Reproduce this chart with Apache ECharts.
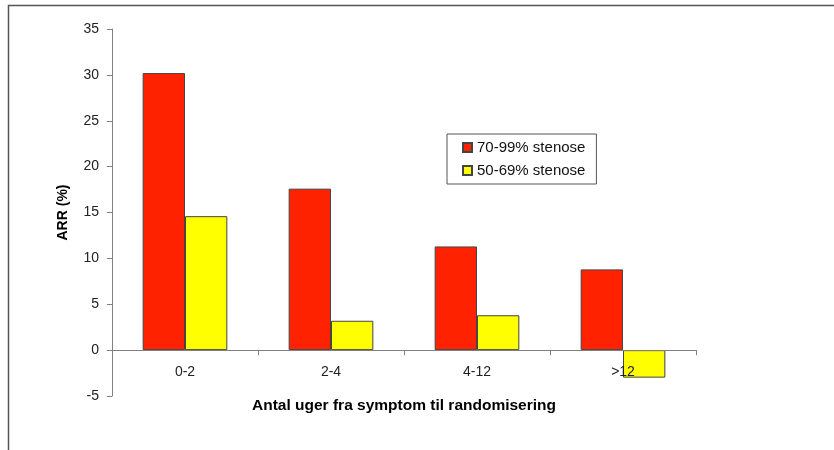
<!DOCTYPE html>
<html>
<head>
<meta charset="utf-8">
<script src="https://cdn.jsdelivr.net/npm/echarts@6/dist/echarts.min.js"></script>
<style>
  html, body { margin: 0; padding: 0; background: #fff; }
  #chart { width: 834px; height: 450px; }
</style>
</head>
<body>
<div id="chart"></div>
<script>
// kategorier og værdier
const categories = ['0-2', '2-4', '4-12', '>12']
const stenose7099 = [30.2, 17.6, 11.3, 8.8]
const stenose5069 = [14.6, 3.2, 3.8, -3.0]
const seriesNames = ['70-99% stenose', '50-69% stenose']

const chart = echarts.init(document.getElementById('chart'))

const font = 'Liberation Sans, Arial, sans-serif'

chart.setOption({
  backgroundColor: '#fff',
  animation: false,
  textStyle: { fontFamily: font },
  // ydre ramme
  graphic: [
    {
      type: 'rect',
      shape: { x: 8.5, y: 5.5, width: 900, height: 500 },
      style: { fill: 'none', stroke: '#555', lineWidth: 1.5 },
      silent: true
    }
  ],
  grid: { left: 112, right: 138, top: 29, bottom: 54, outerBoundsMode: 'none' },
  legend: {
    orient: 'vertical',
    left: 447,
    top: 134,
    padding: [6, 11, 6, 15],
    itemWidth: 9,
    itemHeight: 9,
    itemGap: 8,
    borderColor: '#555',
    borderWidth: 1,
    icon: 'rect',
    textStyle: { fontFamily: font, fontSize: 15, color: '#111' },
    data: seriesNames
  },
  xAxis: {
    type: 'category',
    data: categories,
    z: 5,
    name: 'Antal uger fra symptom til randomisering',
    nameLocation: 'middle',
    nameGap: 2,
    nameTextStyle: { fontFamily: font, fontSize: 15.5, fontWeight: 'bold', color: '#000' },
    axisLine: { onZero: true, lineStyle: { color: '#808080', width: 1 } },
    axisTick: { show: true, inside: false, length: 5, lineStyle: { color: '#808080' } },
    // etiketterne placeres under nul-linjen
    axisLabel: { margin: -31, fontSize: 14, color: '#222', fontFamily: font }
  },
  yAxis: {
    type: 'value',
    min: -5,
    max: 35,
    interval: 5,
    name: 'ARR (%)',
    nameLocation: 'middle',
    nameGap: 42,
    nameTextStyle: { fontFamily: font, fontSize: 14, fontWeight: 'bold', color: '#000' },
    axisLine: { show: true, lineStyle: { color: '#808080', width: 1 } },
    axisTick: { show: true, length: 5, lineStyle: { color: '#808080' } },
    axisLabel: { margin: 13, fontSize: 14, color: '#222', fontFamily: font },
    splitLine: { show: false }
  },
  series: [
    {
      name: seriesNames[0],
      type: 'bar',
      data: stenose7099,
      barGap: '0%',
      barCategoryGap: '42%',
      itemStyle: { color: '#ff2200', borderColor: '#444', borderWidth: 1 }
    },
    {
      name: seriesNames[1],
      type: 'bar',
      data: stenose5069,
      itemStyle: { color: '#ffff00', borderColor: '#444', borderWidth: 1 }
    }
  ]
})
</script>
</body>
</html>
